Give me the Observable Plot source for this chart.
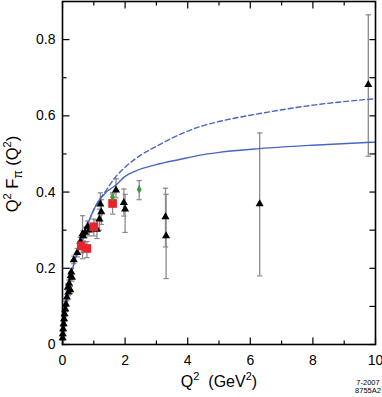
<!DOCTYPE html>
<html>
<head>
<meta charset="utf-8">
<script src="https://cdn.jsdelivr.net/npm/d3@7"></script>
<script src="https://cdn.jsdelivr.net/npm/@observablehq/plot@0.6"></script>
<style>
  body { margin: 0; background: #fff; }
  #chart svg { display: block; }
</style>
</head>
<body>
<div id="chart"></div>
<script>
// Tick values
const xMajor = [0, 2, 4, 6, 8, 10];
const xMinor = [1, 3, 5, 7, 9];
const yMajor = [0, 0.2, 0.4, 0.6, 0.8];
const yMinor = [0.1, 0.3, 0.5, 0.7];

// Solid model curve
const solidQ2 = [0, 0.02, 0.05, 0.1, 0.2, 0.3, 0.42, 0.52, 0.6, 0.735, 0.84, 1.05, 1.4, 1.7, 2, 2.33, 3, 3.77, 4.4, 5, 6.3, 8, 10];
const solidF  = [0, 0.022, 0.05, 0.09, 0.145, 0.19, 0.228, 0.25, 0.268, 0.3, 0.323, 0.362, 0.4, 0.418, 0.441, 0.455, 0.472, 0.486, 0.497, 0.504, 0.514, 0.523, 0.531];

// Dashed model curve
const dashQ2 = [0, 0.02, 0.05, 0.1, 0.2, 0.3, 0.42, 0.52, 0.6, 0.735, 0.84, 1.05, 1.4, 1.7, 2, 2.5, 3, 3.77, 4.4, 5, 6.3, 8, 10];
const dashF  = [0, 0.022, 0.05, 0.09, 0.145, 0.19, 0.228, 0.25, 0.268, 0.3, 0.323, 0.362, 0.405, 0.44, 0.465, 0.497, 0.52, 0.552, 0.572, 0.585, 0.606, 0.628, 0.645];

// Black triangles
const triQ2 = [0.005, 0.01, 0.02, 0.035, 0.05, 0.065, 0.09, 0.11, 0.14, 0.19, 0.25, 0.17, 0.21, 0.3, 0.26, 0.28, 0.36, 0.47, 0.57, 0.64, 0.66, 0.72, 0.8, 0.85, 1.1, 1.18, 1.24, 1.21, 1.71, 1.96, 2.0, 3.29, 3.31, 6.3, 9.77];
const triF  = [0.017, 0.028, 0.041, 0.054, 0.067, 0.08, 0.093, 0.106, 0.124, 0.137, 0.143, 0.15, 0.16, 0.176, 0.18, 0.19, 0.222, 0.241, 0.27, 0.29, 0.285, 0.294, 0.31, 0.3, 0.302, 0.329, 0.348, 0.368, 0.405, 0.372, 0.355, 0.335, 0.285, 0.369, 0.682];
const triLo = [0.011, 0.022, 0.035, 0.048, 0.06, 0.073, 0.086, 0.099, 0.116, 0.128, 0.134, 0.141, 0.151, 0.166, 0.17, 0.18, 0.212, 0.23, 0.258, 0.225, 0.272, 0.28, 0.296, 0.285, 0.278, 0.30, 0.315, 0.34, 0.385, 0.337, 0.294, 0.256, 0.173, 0.18, 0.494];
const triHi = [0.023, 0.034, 0.047, 0.06, 0.074, 0.087, 0.1, 0.113, 0.132, 0.146, 0.152, 0.159, 0.169, 0.186, 0.19, 0.2, 0.232, 0.252, 0.282, 0.338, 0.298, 0.308, 0.324, 0.315, 0.326, 0.355, 0.38, 0.398, 0.435, 0.408, 0.394, 0.41, 0.394, 0.555, 0.865];

// Red squares
const redQ2 = [0.6, 0.78, 1.0, 1.6];
const redF  = [0.259, 0.252, 0.309, 0.37];
const redLo = [0.24, 0.228, 0.285, 0.342];
const redHi = [0.28, 0.27, 0.329, 0.398];

// Green diamonds
const grnQ2 = [1.6, 2.45];
const grnF  = [0.387, 0.407];
const grnLo = [0.38, 0.38];
const grnHi = [0.395, 0.43];

const solid = solidQ2.map((q, i) => ({q, f: solidF[i]}));
const dashed = dashQ2.map((q, i) => ({q, f: dashF[i]}));
const tri = triQ2.map((q, i) => ({q, f: triF[i], lo: triLo[i], hi: triHi[i]}));
const red = redQ2.map((q, i) => ({q, f: redF[i], lo: redLo[i], hi: redHi[i]}));
const grn = grnQ2.map((q, i) => ({q, f: grnF[i], lo: grnLo[i], hi: grnHi[i]}));
const bars = [...tri, ...red, ...grn];

// custom symbols: error-bar cap and inward tick marks (length = r)
const cap = {draw(ctx, size) { const w = Math.sqrt(size) / 2; ctx.moveTo(-w, 0); ctx.lineTo(w, 0); }};
const len = size => Math.sqrt(size / Math.PI);
const tickUp = {draw(ctx, size) { ctx.moveTo(0, 0); ctx.lineTo(0, -len(size)); }};
const tickDown = {draw(ctx, size) { ctx.moveTo(0, 0); ctx.lineTo(0, len(size)); }};
const tickRight = {draw(ctx, size) { ctx.moveTo(0, 0); ctx.lineTo(len(size), 0); }};
const tickLeft = {draw(ctx, size) { ctx.moveTo(0, 0); ctx.lineTo(-len(size), 0); }};

const blue = "#4a66c4";
const font = "'Liberation Sans', Arial, sans-serif";
const tk = {stroke: "black", strokeWidth: 1.2, fill: "none"};

const chart = Plot.plot({
  width: 382,
  height: 397,
  marginLeft: 62,
  marginRight: 7,
  marginTop: 1,
  marginBottom: 53,
  style: {fontFamily: font, fontSize: "14px", background: "#fff"},
  x: {domain: [0, 10]},
  y: {domain: [0, 0.9]},
  marks: [
    // error bars
    Plot.ruleX(bars, {x: "q", y1: "lo", y2: "hi", stroke: "#8a8a8a", strokeWidth: 1.3}),
    Plot.dot(bars, {x: "q", y: "lo", symbol: cap, r: 3, stroke: "#8a8a8a", strokeWidth: 1.2, fill: "none"}),
    Plot.dot(bars, {x: "q", y: "hi", symbol: cap, r: 3, stroke: "#8a8a8a", strokeWidth: 1.2, fill: "none"}),
    // curves
    Plot.line(dashed, {x: "q", y: "f", stroke: blue, strokeWidth: 1.4, strokeDasharray: "5,3", curve: "monotone-x"}),
    Plot.line(solid, {x: "q", y: "f", stroke: blue, strokeWidth: 1.4, curve: "monotone-x"}),
    // points
    Plot.dot(tri, {x: "q", y: "f", symbol: "triangle", r: 3, fill: "black", stroke: null}),
    Plot.dot(red, {x: "q", y: "f", symbol: "square", r: 4.9, fill: "#e8232b", stroke: null}),
    Plot.dot(grn, {x: "q", y: "f", symbol: "diamond", r: 2.6, fill: "#3f9a3f", stroke: null}),
    // inward ticks on all four sides
    Plot.dot(xMajor, {x: d => d, frameAnchor: "bottom", symbol: tickUp, r: 7, ...tk}),
    Plot.dot(xMinor, {x: d => d, frameAnchor: "bottom", symbol: tickUp, r: 4, ...tk}),
    Plot.dot(xMajor, {x: d => d, frameAnchor: "top", symbol: tickDown, r: 7, ...tk}),
    Plot.dot(xMinor, {x: d => d, frameAnchor: "top", symbol: tickDown, r: 4, ...tk}),
    Plot.dot(yMajor, {y: d => d, frameAnchor: "left", symbol: tickRight, r: 7, ...tk}),
    Plot.dot(yMinor, {y: d => d, frameAnchor: "left", symbol: tickRight, r: 4, ...tk}),
    Plot.dot([...yMajor, ...yMinor], {y: d => d, frameAnchor: "right", symbol: tickLeft, r: 6, ...tk}),
    // tick labels
    Plot.axisX(xMajor, {anchor: "bottom", tickSize: 0, tickPadding: 11, label: null, fontSize: 14}),
    Plot.axisY(yMajor, {anchor: "left", tickSize: 0, tickPadding: 7, label: null, fontSize: 14,
      tickFormat: d => d === 0 ? "0" : d.toFixed(1)}),
    Plot.frame({stroke: "black", strokeWidth: 1.6})
  ]
});

const svg = d3.select(chart);
// y-axis title
const yt = svg.append("text")
  .attr("transform", "translate(18,174) rotate(-90)")
  .attr("text-anchor", "middle")
  .attr("font-family", font).attr("font-size", 16.5).attr("fill", "black");
yt.append("tspan").text("Q");
yt.append("tspan").attr("font-size", 11).attr("dy", -7).text("2");
yt.append("tspan").attr("dy", 7).text(" F");
yt.append("tspan").attr("font-size", 12).attr("dy", 4).text("π");
yt.append("tspan").attr("dy", -4).text(" (Q");
yt.append("tspan").attr("font-size", 11).attr("dy", -7).text("2");
yt.append("tspan").attr("dy", 7).text(")");

// x-axis title
const xt = svg.append("text")
  .attr("x", 219).attr("y", 387)
  .attr("text-anchor", "middle")
  .attr("font-family", font).attr("font-size", 16).attr("fill", "black");
xt.append("tspan").text("Q");
xt.append("tspan").attr("font-size", 11).attr("dy", -7).text("2");
xt.append("tspan").attr("dy", 7).text("\u00a0 (GeV");
xt.append("tspan").attr("font-size", 11).attr("dy", -7).text("2");
xt.append("tspan").attr("dy", 7).text(")");

// figure code
svg.append("text").attr("x", 368).attr("y", 385).attr("text-anchor", "middle")
  .attr("font-family", font).attr("font-size", 7.5).attr("fill", "black").text("7-2007");
svg.append("text").attr("x", 368).attr("y", 393).attr("text-anchor", "middle")
  .attr("font-family", font).attr("font-size", 7.5).attr("fill", "black").text("8755A2");

document.getElementById("chart").append(chart);
</script>
</body>
</html>
